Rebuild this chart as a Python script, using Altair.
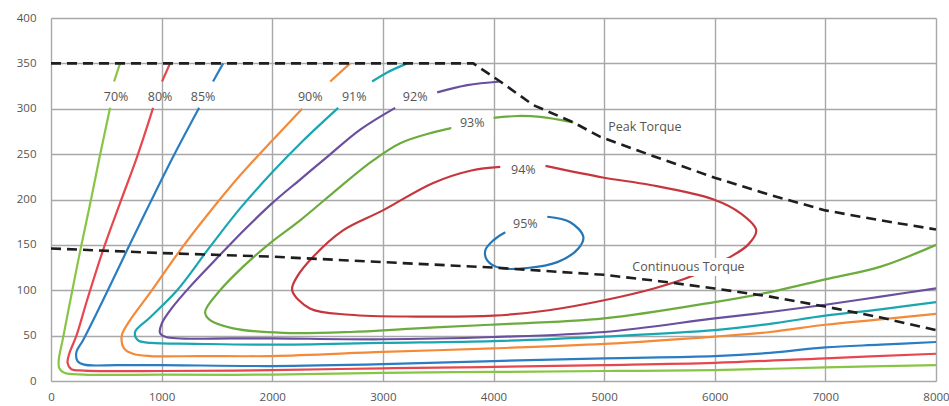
import altair as alt
import pandas as pd

# Motor efficiency map: iso-efficiency contours, speed (rpm) vs torque (Nm)

levels = ["70%", "80%", "85%", "90%", "91%", "92%", "93%", "94%", "95%"]
level_colors = ["#88c545", "#e6474e", "#2a7dc3", "#f48a38", "#1aa6b0",
                "#6b4f9f", "#6cab3d", "#c6373d", "#2676b4"]

# Each contour is split where its percentage label sits (segment a / b)
e70_a_rpm = [624, 570]
e70_a_nm = [350, 330]
e70_b_rpm = [534, 440, 355, 265, 175, 105, 70, 75, 120, 300, 1000, 2000, 3000, 4000, 5000, 6000, 7000, 8000]
e70_b_nm = [301, 247, 196, 144, 89, 45, 23, 14, 9, 7, 7, 7, 9, 10, 11, 12, 15, 17.5]

e80_a_rpm = [1076, 1004]
e80_a_nm = [350, 330]
e80_b_rpm = [923, 778, 624, 470, 326, 230, 165, 150, 185, 300, 1000, 2000, 3000, 4000, 5000, 6000, 7000, 8000]
e80_b_nm = [301, 247, 196, 144, 89, 50, 30, 20, 13, 11.5, 11, 12, 14, 15.5, 17.5, 20, 25, 30]

e85_a_rpm = [1556, 1465]
e85_a_nm = [350, 330]
e85_b_rpm = [1339, 1104, 895, 687, 470, 290, 230, 240, 300, 600, 1000, 2000, 3000, 4000, 5000, 6000, 6500, 7000, 7500, 8000]
e85_b_nm = [301, 247, 196, 144, 89, 45, 32, 22, 18, 17.5, 17.5, 16.5, 18.5, 22, 25, 27.5, 31, 37, 40, 43]

e90_a_rpm = [2704, 2524]
e90_a_nm = [350, 330]
e90_b_rpm = [2270, 2000, 1720, 1440, 1167, 895, 715, 640, 660, 740, 900, 1350, 2000, 3000, 4000, 5000, 6000, 6500, 7000, 7500, 8000]
e90_b_nm = [300, 265, 228, 187, 144, 97, 67, 50, 36, 30, 27.5, 27.5, 27.5, 32, 36, 41, 49, 54, 62, 68, 74]

e91_a_rpm = [3220, 3039, 2903]
e91_a_nm = [350, 340, 330]
e91_b_rpm = [2596, 2280, 2000, 1715, 1438, 1140, 895, 760, 785, 900, 1300, 2000, 3000, 4000, 5000, 6000, 6500, 7000, 7500, 8000]
e91_b_nm = [301, 265, 230, 191, 148, 100, 70, 54, 45, 42, 41, 40, 42, 44, 49, 56, 63, 72, 79, 87]

e92_a_rpm = [4061, 3763, 3491]
e92_a_nm = [330, 326, 318]
e92_b_rpm = [3111, 2795, 2497, 2252, 2000, 1760, 1529, 1257, 1090, 1000, 985, 1040, 1646, 2000, 3000, 4000, 5000, 6000, 6500, 7000, 7500, 8000]
e92_b_nm = [301, 277, 247, 222, 196, 168, 139, 104, 80, 63, 53, 48.5, 47, 47, 46, 48.5, 54, 69, 76, 84, 93, 102]

e93_a_rpm = [4722, 4423, 4215, 4000]
e93_a_nm = [285, 291, 292, 290]
e93_b_rpm = [3627, 3455, 3157, 2912, 2614, 2252, 1981, 1737, 1529, 1393, 1438, 1646, 2098, 2704, 3310, 3970, 5000, 6000, 6500, 7000, 7500, 8000]
e93_b_nm = [279, 274, 262, 243, 214, 177, 152, 126, 100, 76, 67, 58, 53, 54, 58, 62, 69, 87, 98, 112, 126, 150]

e94_a_rpm = [4470, 5000, 5418, 5990, 6230, 6375, 6300, 6114, 5800, 5450, 5000, 4500, 4000, 3300, 2700, 2340, 2180, 2225, 2370, 2640, 3000, 3450, 3800, 4061]
e94_a_nm = [237, 224, 216, 200, 185, 166, 150, 135, 116, 102, 89, 78, 72, 71, 73, 80, 100, 115, 137, 166, 188, 218, 232, 236]

e95_a_rpm = [4486, 4694, 4812, 4767, 4577, 4305, 4061, 3943, 3926, 3998, 4106]
e95_a_nm = [181, 175, 159, 146, 131, 124.5, 124.5, 133, 144, 155, 164]

# Torque limits
peak_rpm = [0, 3817, 4061, 4360, 4721, 4966, 5418, 6000, 6500, 7000, 7500, 8000]
peak_nm = [350, 350, 330, 304, 285, 269, 249, 224, 205, 188, 177, 167]
cont_rpm = [0, 1000, 2000, 3000, 4000, 5000, 5500, 6000, 6500, 7000, 7500, 8000]
cont_nm = [146, 141, 137, 131, 125, 117, 110, 102, 93, 82, 70, 56]

# Contour labels
label_text = ["70%", "80%", "85%", "90%", "91%", "92%", "93%", "94%", "95%"]
label_rpm = [588, 986, 1375, 2343, 2741, 3292, 3808, 4270, 4288]
label_nm = [313, 313, 313, 313, 313, 313, 284, 232.5, 173]

limit_text = ["Peak Torque", "Continuous Torque"]
limit_rpm = [5038, 5255]
limit_nm = [280, 125.6]

segments = [
    ("70%", "a", e70_a_rpm, e70_a_nm), ("70%", "b", e70_b_rpm, e70_b_nm),
    ("80%", "a", e80_a_rpm, e80_a_nm), ("80%", "b", e80_b_rpm, e80_b_nm),
    ("85%", "a", e85_a_rpm, e85_a_nm), ("85%", "b", e85_b_rpm, e85_b_nm),
    ("90%", "a", e90_a_rpm, e90_a_nm), ("90%", "b", e90_b_rpm, e90_b_nm),
    ("91%", "a", e91_a_rpm, e91_a_nm), ("91%", "b", e91_b_rpm, e91_b_nm),
    ("92%", "a", e92_a_rpm, e92_a_nm), ("92%", "b", e92_b_rpm, e92_b_nm),
    ("93%", "a", e93_a_rpm, e93_a_nm), ("93%", "b", e93_b_rpm, e93_b_nm),
    ("94%", "a", e94_a_rpm, e94_a_nm),
    ("95%", "a", e95_a_rpm, e95_a_nm),
]

rows = []
for lvl, part, xs, ys in segments:
    for i, (r, t) in enumerate(zip(xs, ys)):
        rows.append({"level": lvl, "seg": lvl + part, "i": i, "rpm": r, "nm": t})
contours = pd.DataFrame(rows)

limits = pd.concat([
    pd.DataFrame({"curve": "peak", "i": range(len(peak_rpm)), "rpm": peak_rpm, "nm": peak_nm}),
    pd.DataFrame({"curve": "cont", "i": range(len(cont_rpm)), "rpm": cont_rpm, "nm": cont_nm}),
])

labels = pd.DataFrame({"text": label_text, "rpm": label_rpm, "nm": label_nm})
limit_labels = pd.DataFrame({"text": limit_text, "rpm": limit_rpm, "nm": limit_nm})

W, H = 885, 363
X_MAX, Y_MAX = 8000, 400
FONT = "Open Sans"
TEXT_COLOR = "#555555"
GRID = "#a8a8a8"

x_enc = alt.X(
    "rpm:Q",
    scale=alt.Scale(domain=[0, X_MAX], nice=False, zero=False),
    axis=alt.Axis(values=list(range(0, X_MAX + 1, 1000)), format="d", title=None, grid=True,
                  gridColor=GRID, gridWidth=1.4, domain=False, ticks=False,
                  labelFlush=False, labelPadding=10, labelFont=FONT,
                  labelFontSize=11.5, labelColor=TEXT_COLOR),
)
y_enc = alt.Y(
    "nm:Q",
    scale=alt.Scale(domain=[0, Y_MAX], nice=False, zero=False),
    axis=alt.Axis(values=list(range(0, Y_MAX + 1, 50)), title=None, grid=True,
                  gridColor=GRID, gridWidth=1.4, domain=False, ticks=False,
                  labelPadding=15, labelFont=FONT, labelFontSize=11.5,
                  labelColor=TEXT_COLOR),
)

contour_lines = alt.Chart(contours).mark_line(
    interpolate="catmull-rom", strokeWidth=2.2
).encode(
    x=x_enc, y=y_enc,
    color=alt.Color("level:N", scale=alt.Scale(domain=levels, range=level_colors), legend=None),
    detail="seg:N",
    order="i:Q",
)

limit_lines = alt.Chart(limits).mark_line(
    color="#1e1e1e", strokeWidth=2.6, strokeDash=[10, 6]
).encode(x=x_enc, y=y_enc, detail="curve:N", order="i:Q")

# White backing boxes (sized in pixels) behind the "93%" and "Continuous Torque" labels,
# so the grid and the 94% curve are masked there.
rpm_per_px = X_MAX / W
nm_per_px = Y_MAX / H
box_cx = [label_rpm[6], limit_rpm[1] + 57 * rpm_per_px]
box_cy = [label_nm[6], limit_nm[1]]
box_w = [42, 122]
box_h = [22, 18]
box_df = pd.DataFrame({
    "rpm": [cx - w / 2 * rpm_per_px for cx, w in zip(box_cx, box_w)],
    "rpm2": [cx + w / 2 * rpm_per_px for cx, w in zip(box_cx, box_w)],
    "nm": [cy - h / 2 * nm_per_px for cy, h in zip(box_cy, box_h)],
    "nm2": [cy + h / 2 * nm_per_px for cy, h in zip(box_cy, box_h)],
})
boxes = alt.Chart(box_df).mark_rect(color="white").encode(
    x=x_enc, x2="rpm2:Q", y=y_enc, y2="nm2:Q",
)

pct_text = alt.Chart(labels).mark_text(
    font=FONT, fontSize=12.5, color=TEXT_COLOR
).encode(x=x_enc, y=y_enc, text="text:N")

limit_text_marks = alt.Chart(limit_labels).mark_text(
    font=FONT, fontSize=12.5, color=TEXT_COLOR, align="left"
).encode(x=x_enc, y=y_enc, text="text:N")

chart = alt.layer(
    contour_lines, limit_lines, boxes, pct_text, limit_text_marks
).properties(
    width=W, height=H,
    padding={"left": 51, "top": 18, "right": 13, "bottom": 25},
    autosize=alt.AutoSizeParams(type="none"),
    background="white",
).configure_view(stroke=None)

chart.save("out.html", embed_options={"renderer": "svg", "actions": False})
